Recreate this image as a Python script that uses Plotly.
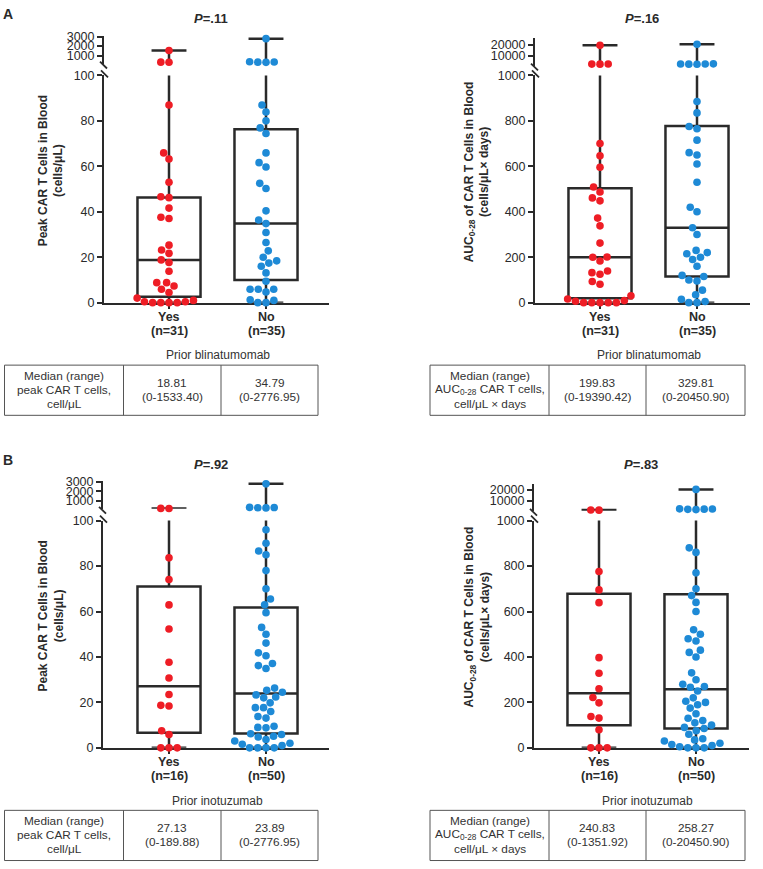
import math
import plotly.graph_objects as go

# ---------------- data ----------------
categories = ["Yes", "No"]
n_blina = [31, 35]
n_ino = [16, 50]
p_values = [".11", ".16", ".92", ".83"]

# Peak CAR T cells (cells/uL), prior blinatumomab
peak_blina_yes = [1533.40, 300, 290, 87.0, 65.9, 63.2, 53.0, 46.6, 46.2, 41.6, 37.6, 37.0, 25.3, 23.2,
                  21.7, 18.81, 17.7, 13.8, 8.8, 8.8, 7.3, 5.9, 4.5, 2.0, 1.0, 0.4, 0.4, 0, 0, 0, 0]
peak_blina_no = [2776.95, 340, 320, 300, 280, 87.0, 83.9, 80.0, 76.9, 74.4, 65.9, 61.6, 59.7, 52.5, 50.2,
                 40.4, 36.4, 34.79, 30.9, 26.5, 22.8, 20.0, 18.4, 17.4, 16.0, 13.1, 9.4, 5.9, 5.9, 5.9,
                 4.7, 1.3, 1.0, 0, 0]
# AUC0-28 (cells/uL x days), prior blinatumomab
auc_blina_yes = [19390.42, 2100, 2050, 2000, 700, 646, 596, 509, 487, 461, 448, 372, 338, 262, 201,
                 199.83, 183, 139, 132, 125, 93, 81, 30, 16, 9, 6, 0, 0, 0, 0, 0]
auc_blina_no = [20450.90, 2300, 2200, 2100, 2000, 1900, 885, 835, 775, 765, 715, 660, 650, 610, 530,
                420, 400, 329.81, 300, 230, 220, 215, 200, 190, 160, 120, 115, 100, 95, 55, 35, 15, 5, 0, 0]
# Peak, prior inotuzumab
peak_ino_yes = [189.88, 185, 83.6, 74.1, 62.9, 52.3, 37.7, 30.76, 23.5, 18.7, 18.4, 7.5, 5.9, 0, 0, 0]
peak_ino_no = [2776.95, 300, 280, 260, 240, 96, 90, 86.6, 85, 78, 70, 65.5, 63, 59.5, 53, 50, 46.1,
               41.8, 40.5, 37.1, 36.2, 34.9, 26.3, 25.3, 24.48, 23.3, 22.4, 22.0, 19.8, 17.7, 17.7,
               16.0, 13.8, 13.1, 9.5, 9.0, 8.8, 6.2, 5.9, 5.1, 4.8, 3.7, 3.0, 2.0, 1.6, 1.0, 0, 0, 0, 0]
# AUC, prior inotuzumab
auc_ino_yes = [1351.92, 1300, 776, 695, 639, 397, 328, 260, 221.66, 198, 138, 131, 80, 0, 0, 0]
auc_ino_no = [20450.90, 2500, 2300, 2200, 2000, 1800, 880, 860, 770, 700, 670, 640, 600, 520, 500,
              480, 470, 430, 420, 400, 330, 300, 280, 270, 266.54, 250, 220, 205, 200, 190, 175, 150,
              130, 120, 110, 100, 90, 85, 75, 60, 40, 35, 30, 20, 15, 10, 5, 0, 0, 0]

# box statistics [Yes, No]
peak_blina_q1 = [2.6, 10.0]
peak_blina_median = [18.81, 34.79]
peak_blina_q3 = [46.3, 76.3]
peak_blina_min = [0, 0]
peak_blina_max = [1533.40, 2776.95]

auc_blina_q1 = [19, 115]
auc_blina_median = [199.83, 329.81]
auc_blina_q3 = [503, 777]
auc_blina_min = [0, 0]
auc_blina_max = [19390.42, 20450.90]

peak_ino_q1 = [6.6, 6.3]
peak_ino_median = [27.13, 23.89]
peak_ino_q3 = [71.0, 61.8]
peak_ino_min = [0, 0]
peak_ino_max = [189.88, 2776.95]

auc_ino_q1 = [99, 85]
auc_ino_median = [240.83, 258.27]
auc_ino_q3 = [678, 676]
auc_ino_min = [0, 0]
auc_ino_max = [1351.92, 20450.90]

# ---------------- styling / geometry ----------------
W, H = 763, 869
FONT = "Liberation Sans, Arial, sans-serif"
RED = "#ee1d25"
BLUE = "#1e8ad6"
DARK = "#2a2a2a"
UNIT = 97.0          # px per category step
BOXW = 0.65
CAPW = 0.36
DIAM = 8.2
MSIZE = 7.6


def fx(px):
    return px / W


def fy(py):
    return 1 - py / H


KINDS = {
    "peak": dict(lower_max=100, lower_ticks=[0, 20, 40, 60, 80, 100],
                 up_range=[150, 3052], up_ticks=[1000, 2000, 3000], up_dom=[29.5, 57.5],
                 title="Peak CAR T Cells in Blood<br>(cells/μL)",
                 row=["Median (range)", "peak CAR T cells,", "cell/μL"]),
    "auc": dict(lower_max=1000, lower_ticks=[0, 200, 400, 600, 800, 1000],
                up_range=[727, 25727], up_ticks=[10000, 20000], up_dom=[32, 59.5],
                title="AUC<sub>0-28</sub> of CAR T Cells in Blood<br>(cells/μL× days)",
                row=["Median (range)", "AUC<sub>0-28</sub> CAR T cells,", "cell/μL × days"]),
}

panels = [
    dict(groups=(peak_blina_yes, peak_blina_no), q1=peak_blina_q1, med=peak_blina_median,
         q3=peak_blina_q3, mn=peak_blina_min, mx=peak_blina_max, n=n_blina, kind="peak",
         axis_px=104, yes_px=169, hi=1.65, dy=0, p=p_values[0], prior="Prior blinatumomab",
         title_x=51, table=[4.5, 123.5, 221, 318]),
    dict(groups=(auc_blina_yes, auc_blina_no), q1=auc_blina_q1, med=auc_blina_median,
         q3=auc_blina_q3, mn=auc_blina_min, mx=auc_blina_max, n=n_blina, kind="auc",
         axis_px=535, yes_px=600, hi=1.55, dy=0, p=p_values[1], prior="Prior blinatumomab",
         title_x=477, table=[430, 549, 646, 745]),
    dict(groups=(peak_ino_yes, peak_ino_no), q1=peak_ino_q1, med=peak_ino_median,
         q3=peak_ino_q3, mn=peak_ino_min, mx=peak_ino_max, n=n_ino, kind="peak",
         axis_px=103, yes_px=169, hi=1.65, dy=452.5, p=p_values[2], prior="Prior inotuzumab",
         title_x=51, table=[4.5, 123.5, 221, 318]),
    dict(groups=(auc_ino_yes, auc_ino_no), q1=auc_ino_q1, med=auc_ino_median,
         q3=auc_ino_q3, mn=auc_ino_min, mx=auc_ino_max, n=n_ino, kind="auc",
         axis_px=534, yes_px=599, hi=1.55, dy=452.5, p=p_values[3], prior="Prior inotuzumab",
         title_x=477, table=[430, 549, 646, 745]),
]

LOW_TOP, LOW_BOT = 69.5, 300.5


def swarm(ys, diam):
    order = sorted(range(len(ys)), key=lambda i: -ys[i])
    placed = []
    xs = [0.0] * len(ys)
    for i in order:
        y = ys[i]
        near = [(px, py) for px, py in placed if abs(py - y) < diam]
        cands = [0.0]
        for px, py in near:
            d = math.sqrt(max(diam ** 2 - (py - y) ** 2, 0))
            cands += [px + d, px - d]
        cands.sort(key=lambda c: (round(abs(c), 6), c))
        for c in cands:
            if all((c - px) ** 2 + (y - py) ** 2 >= diam ** 2 - 1e-6 for px, py in near):
                xs[i] = c
                break
        placed.append((xs[i], y))
    return xs


def ann(text, x, y, size=12, color=DARK, **kw):
    d = dict(text=text, x=fx(x), y=fy(y), xref="paper", yref="paper", showarrow=False,
             xanchor="center", yanchor="middle", font=dict(size=size, family=FONT, color=color))
    d.update(kw)
    return d


fig = go.Figure()
layout = dict(width=W, height=H, margin=dict(l=0, r=0, t=0, b=0), autosize=False,
              paper_bgcolor="white", plot_bgcolor="white", showlegend=False,
              font=dict(family=FONT, color=DARK), boxmode="overlay")
annotations = []
shapes = []

for i, pn in enumerate(panels):
    k = KINDS[pn["kind"]]
    dy = pn["dy"]
    xl, xu = 2 * i + 1, 2 * i + 2
    xl_ref = "x" if xl == 1 else f"x{xl}"
    yl_ref = "y" if xl == 1 else f"y{xl}"
    xu_ref, yu_ref = f"x{xu}", f"y{xu}"
    xl_key = "xaxis" if xl == 1 else f"xaxis{xl}"
    yl_key = "yaxis" if xl == 1 else f"yaxis{xl}"
    xu_key, yu_key = f"xaxis{xu}", f"yaxis{xu}"

    lo = -(pn["yes_px"] - pn["axis_px"]) / UNIT
    hi = pn["hi"]
    right_px = pn["axis_px"] + (hi - lo) * UNIT
    xdom = [fx(pn["axis_px"]), fx(right_px)]
    low_top, low_bot = LOW_TOP + dy, LOW_BOT + dy
    up_top, up_bot = k["up_dom"][0] + dy, k["up_dom"][1] + dy
    r0, r1 = k["up_range"]
    lmax = k["lower_max"]

    axis_common = dict(showline=True, linewidth=2, linecolor=DARK, showgrid=False, zeroline=False,
                       ticks="outside", tickwidth=2, tickcolor=DARK, layer="below traces",
                       tickfont=dict(family=FONT, size=12.5, color=DARK))
    layout[xl_key] = dict(axis_common, domain=xdom, range=[lo, hi], anchor=yl_ref, ticklen=4,
                          tickvals=[0, 1], showticklabels=False)
    layout[yl_key] = dict(axis_common, domain=[fy(low_bot), fy(low_top)], range=[0, lmax],
                          anchor=xl_ref, ticklen=5, tickvals=k["lower_ticks"])
    layout[xu_key] = dict(domain=xdom, range=[lo, hi], anchor=yu_ref, visible=False)
    layout[yu_key] = dict(axis_common, domain=[fy(up_bot), fy(up_top)], range=[r0, r1],
                          anchor=xu_ref, ticklen=5, tickvals=k["up_ticks"],
                          ticktext=[str(t) for t in k["up_ticks"]])

    # category labels (placed on the x axis scale)
    for pos, (cat, n) in enumerate(zip(categories, pn["n"])):
        for txt, yy in ((f"<b>{cat}</b>", 315 + dy), (f"<b>(n={n})</b>", 329 + dy)):
            annotations.append(dict(text=txt, x=pos, y=fy(yy), xref=xl_ref, yref="paper",
                                    showarrow=False, xanchor="center", yanchor="middle",
                                    font=dict(size=12.5, family=FONT, color=DARK)))

    # box (lower segment)
    fig.add_trace(go.Box(x=[0, 1], q1=pn["q1"], median=pn["med"], q3=pn["q3"],
                         lowerfence=pn["mn"], upperfence=pn["mx"], width=BOXW, whiskerwidth=0.55,
                         line=dict(color=DARK, width=2.5), fillcolor="rgba(0,0,0,0)",
                         boxpoints=False, hoverinfo="skip", xaxis=xl_ref, yaxis=yl_ref))
    # upper segment: continuation of whisker + cap at the maximum
    for pos in range(2):
        if pn["mx"][pos] > lmax:
            fig.add_trace(go.Scatter(x=[pos, pos], y=[pn["q3"][pos], pn["mx"][pos]], mode="lines",
                                     line=dict(color=DARK, width=2.5), hoverinfo="skip",
                                     xaxis=xu_ref, yaxis=yu_ref))
            fig.add_trace(go.Scatter(x=[pos - CAPW / 2, pos + CAPW / 2], y=[pn["mx"][pos]] * 2,
                                     mode="lines", line=dict(color=DARK, width=2.5), hoverinfo="skip",
                                     xaxis=xu_ref, yaxis=yu_ref))

    def ypx(v):
        if v <= lmax:
            return low_bot - v / lmax * (low_bot - low_top)
        return up_bot - (v - r0) / (r1 - r0) * (up_bot - up_top)

    for pos, (vals, col) in enumerate(zip(pn["groups"], (RED, BLUE))):
        offs = swarm([ypx(v) for v in vals], DIAM)
        xs = [pos + o / UNIT for o in offs]
        lowx = [x for x, v in zip(xs, vals) if v <= lmax]
        lowy = [v for v in vals if v <= lmax]
        upx = [x for x, v in zip(xs, vals) if v > lmax]
        upy = [v for v in vals if v > lmax]
        mk = dict(size=MSIZE, color=col, line=dict(width=0))
        fig.add_trace(go.Scatter(x=lowx, y=lowy, mode="markers", marker=mk, cliponaxis=False,
                                 hoverinfo="skip", xaxis=xl_ref, yaxis=yl_ref))
        fig.add_trace(go.Scatter(x=upx, y=upy, mode="markers", marker=mk, cliponaxis=False,
                                 hoverinfo="skip", xaxis=xu_ref, yaxis=yu_ref))

    # axis break marks
    ax = pn["axis_px"]
    for (x0, y0, x1, y1) in ((ax - 4, up_bot - 2, ax + 3, up_bot + 5),
                             (ax - 3, low_top - 5, ax + 4, low_top + 2)):
        shapes.append(dict(type="line", xref="paper", yref="paper", x0=fx(x0), y0=fy(y0),
                           x1=fx(x1), y1=fy(y1), line=dict(color=DARK, width=1.8)))

    # P value title
    annotations.append(ann(f"<b><i>P</i>=.{pn['p'][1:]}</b>", pn["yes_px"] + UNIT * 0.43, 12 + dy, size=13))
    # y-axis title
    annotations.append(ann(f"<b>{k['title']}</b>", pn["title_x"], 167 + dy, size=12, textangle=-90))
    # "Prior ..." label
    annotations.append(ann(pn["prior"], pn["yes_px"] + UNIT / 2, 354 + dy, size=12, color="#333"))

    # table
    tx = pn["table"]
    ttop, tbot = 364 + dy, 415 + dy
    shapes.append(dict(type="rect", xref="paper", yref="paper", x0=fx(tx[0]), x1=fx(tx[3]),
                       y0=fy(tbot), y1=fy(ttop), line=dict(color="#555", width=1)))
    for xv in tx[1:3]:
        shapes.append(dict(type="line", xref="paper", yref="paper", x0=fx(xv), x1=fx(xv),
                           y0=fy(tbot), y1=fy(ttop), line=dict(color="#555", width=1)))
    for j, line in enumerate(k["row"]):
        annotations.append(ann(line, (tx[0] + tx[1]) / 2, 375 + 14 * j + dy, size=11.8, color="#333"))
    for c in range(2):
        cx = (tx[c + 1] + tx[c + 2]) / 2
        annotations.append(ann(f"{pn['med'][c]:.2f}", cx, 382 + dy, size=11.8, color="#333"))
        annotations.append(ann(f"({pn['mn'][c]:g}-{pn['mx'][c]:.2f})", cx, 396 + dy, size=11.8, color="#333"))

for lab, yy in (("A", 7), ("B", 460)):
    annotations.append(ann(f"<b>{lab}</b>", 1, yy, size=14, xanchor="left"))

layout["annotations"] = annotations
layout["shapes"] = shapes
fig.update_layout(**layout)
fig.write_html("out.html", config={"displayModeBar": False},
               post_script="document.body.style.margin='0px';document.body.style.overflow='hidden';")
